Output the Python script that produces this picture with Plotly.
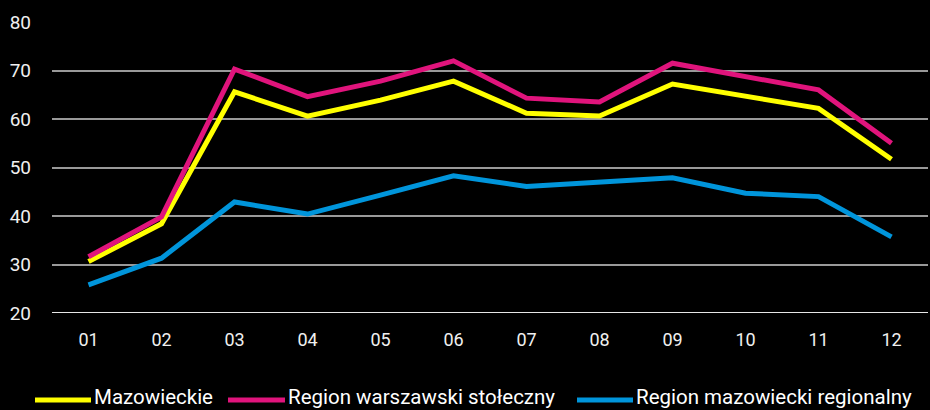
import plotly.graph_objects as go

months = ["01", "02", "03", "04", "05", "06", "07", "08", "09", "10", "11", "12"]
mazowieckie = [30.6, 38.4, 65.6, 60.6, 63.9, 67.8, 61.2, 60.6, 67.2, 64.6, 62.2, 51.7]
warszawski = [31.6, 39.8, 70.3, 64.6, 67.8, 72.0, 64.3, 63.5, 71.5, 68.8, 66.0, 55.0]
regionalny = [25.8, 31.3, 42.9, 40.4, 44.3, 48.3, 46.1, 47.1, 47.9, 44.7, 44.0, 35.7]
series_names = ["Mazowieckie", "Region warszawski stołeczny", "Region mazowiecki regionalny"]
series_colors = ["#ffff00", "#e0147c", "#0095db"]
y_ticks = [20, 30, 40, 50, 60, 70, 80]

font_family = "Roboto"

W, H = 930, 410
ML, MR, MT, MB = 52, 2, 22, 97
PW, PH = W - ML - MR, H - MT - MB


def px_to_paper_x(px):
    return (px - ML) / PW


def px_to_paper_y(py):
    return (H - MB - py) / PH


fig = go.Figure()
for name, vals, color in zip(series_names, [mazowieckie, warszawski, regionalny], series_colors):
    fig.add_trace(go.Scatter(x=months, y=vals, mode="lines", name=name,
                             line=dict(color=color, width=5), showlegend=False))

fig.update_layout(
    width=W, height=H,
    paper_bgcolor="black", plot_bgcolor="black",
    margin=dict(l=ML, r=MR, t=MT, b=MB, autoexpand=False),
    font=dict(family=font_family, color="white", size=18),
    xaxis=dict(type="category", range=[-0.5, 11.5], showgrid=False, zeroline=False,
               showline=False, ticks="", tickfont=dict(size=18, color="#f0f0f0"),
               ticklabelstandoff=14),
    yaxis=dict(range=[20, 80], tickvals=y_ticks, showgrid=True, gridcolor="#999999",
               gridwidth=1.5, zeroline=False, showline=False, ticks="",
               tickfont=dict(size=19, color="#f0f0f0"), ticklabelstandoff=20),
    showlegend=False,
)
fig.add_shape(type="line", xref="paper", x0=0, x1=1, yref="y", y0=20, y1=20,
              line=dict(color="#e6e6e6", width=2), layer="below")

# custom legend (long line symbols as in the reference)
legend_symbol_px = [(35, 91), (228, 285), (577, 633)]
sym_y = px_to_paper_y(400)
txt_y = px_to_paper_y(397)
for name, color, (s0, s1) in zip(series_names, series_colors, legend_symbol_px):
    fig.add_shape(type="line", xref="paper", yref="paper",
                  x0=px_to_paper_x(s0), x1=px_to_paper_x(s1), y0=sym_y, y1=sym_y,
                  line=dict(color=color, width=5))
    fig.add_annotation(xref="paper", yref="paper", x=px_to_paper_x(s1 + 2), y=txt_y,
                       xanchor="left", yanchor="middle", showarrow=False, text=name,
                       borderpad=0,
                       font=dict(size=20.5, color="white", family=font_family))

fig.write_html("out.html", config={"displayModeBar": False},
               post_script="document.body.style.margin='0';document.body.style.background='black';")
